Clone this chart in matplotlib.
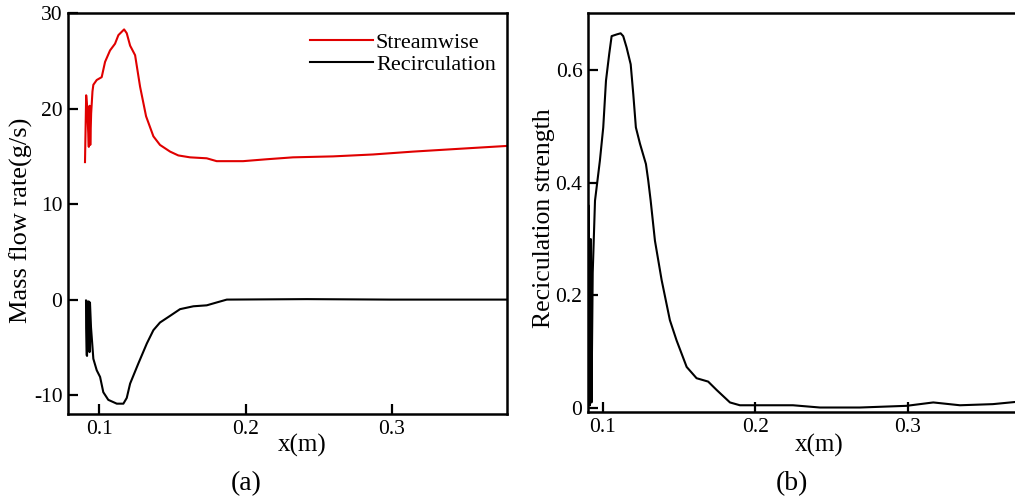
import matplotlib
matplotlib.use('Agg')
import matplotlib.pyplot as plt
from matplotlib.ticker import FuncFormatter

plt.rcParams['font.family'] = ['Liberation Serif', 'DejaVu Serif']

# (a) mass flow rate (g/s) vs x (m)
x_stream = [0.0904, 0.0908, 0.0912, 0.0917, 0.0922, 0.0930, 0.0935, 0.0940, 0.0946,
            0.0955, 0.0961, 0.0984, 0.1018, 0.1041, 0.1075, 0.1109, 0.1132, 0.1171,
            0.1189, 0.1212, 0.1246, 0.1280, 0.1321, 0.1371, 0.1416, 0.1485, 0.1541,
            0.1621, 0.1735, 0.1803, 0.1983, 0.2145, 0.2324, 0.2597, 0.2870, 0.3143,
            0.3464, 0.3790]
streamwise = [14.4, 17.9, 21.4, 20.5, 19.0, 16.0, 20.3, 16.2, 19.5,
              21.8, 22.5, 23.0, 23.3, 24.9, 26.1, 26.8, 27.7, 28.3,
              27.9, 26.6, 25.6, 22.3, 19.2, 17.1, 16.2, 15.5, 15.1,
              14.9, 14.8, 14.5, 14.5, 14.7, 14.9, 15.0, 15.2, 15.5,
              15.8, 16.1]

x_recirc = [0.0911, 0.0912, 0.0915, 0.0918, 0.0921, 0.0930, 0.0935, 0.0938, 0.0945,
            0.0961, 0.0984, 0.1007, 0.1029, 0.1063, 0.1121, 0.1166, 0.1189, 0.1212,
            0.1268, 0.1326, 0.1371, 0.1416, 0.1485, 0.1553, 0.1644, 0.1735, 0.1803,
            0.1872, 0.2418, 0.2993, 0.3790]
recirculation = [-0.1, -3.0, -5.8, -5.9, -0.2, -0.2, -5.5, -0.3, -2.9,
                 -6.2, -7.4, -8.1, -9.7, -10.5, -10.9, -10.9, -10.3, -8.8,
                 -6.7, -4.6, -3.2, -2.4, -1.7, -1.0, -0.7, -0.6, -0.3,
                 0.0, 0.05, 0.0, 0.0]

# (b) recirculation strength vs x (m)
x_strength = [0.0903, 0.0905, 0.0908, 0.0911, 0.0915, 0.0920, 0.0925, 0.0933, 0.0948,
              0.0980, 0.1002, 0.1020, 0.1041, 0.1057, 0.1090, 0.1116, 0.1133, 0.1155,
              0.1182, 0.1199, 0.1216, 0.1243, 0.1282, 0.1297, 0.1313, 0.1341, 0.1385,
              0.1439, 0.1483, 0.1549, 0.1614, 0.1690, 0.1746, 0.1833, 0.1898, 0.2030,
              0.2246, 0.2423, 0.2685, 0.2991, 0.3166, 0.3341, 0.3557, 0.3710]
strength = [0.01, 0.36, 0.02, 0.25, 0.005, 0.30, 0.01, 0.24, 0.368,
            0.439, 0.498, 0.581, 0.628, 0.660, 0.663, 0.665, 0.660, 0.640,
            0.610, 0.557, 0.498, 0.469, 0.433, 0.404, 0.368, 0.297, 0.227,
            0.156, 0.120, 0.073, 0.053, 0.047, 0.032, 0.010, 0.005, 0.005,
            0.005, 0.001, 0.001, 0.004, 0.010, 0.005, 0.007, 0.011]

fmt = FuncFormatter(lambda v, p: ('%g' % v).replace('\u2212', '-'))

fig = plt.figure(figsize=(10.15, 4.99), dpi=100)
ax1 = fig.add_axes([0.067, 0.170, 0.4325, 0.8036])
ax2 = fig.add_axes([0.5793, 0.1743, 0.4207, 0.7996])

ax1.plot(x_stream, streamwise, color='#e00000', lw=1.5, label='Streamwise')
ax1.plot(x_recirc, recirculation, color='black', lw=1.5, label='Recirculation')
ax1.set_xlim(0.0788, 0.3785)
ax1.set_ylim(-12.0, 29.9)
ax1.set_xticks([0.1, 0.2, 0.3])
ax1.set_yticks([-10, 0, 10, 20, 30])
ax1.set_ylabel('Mass flow rate(g/s)', fontsize=19)
ax1.yaxis.set_label_coords(-0.107, 0.484)
ax1.set_xlabel('x(m)', fontsize=18)
ax1.xaxis.set_label_coords(0.533, -0.077)
ax1.legend(loc='upper right', frameon=False, fontsize=16, handlelength=2.8,
           handletextpad=0.15, labelspacing=0.05, borderaxespad=0.2,
           bbox_to_anchor=(1.005, 0.985))

ax2.plot(x_strength, strength, color='black', lw=1.5)
ax2.set_xlim(0.0902, 0.3702)
ax2.set_ylim(-0.007, 0.701)
ax2.set_xticks([0.1, 0.2, 0.3])
ax2.set_yticks([0, 0.2, 0.4, 0.6])
ax2.set_ylabel('Reciculation strength', fontsize=18.5)
ax2.yaxis.set_label_coords(-0.103, 0.486)
ax2.set_xlabel('x(m)', fontsize=18)
ax2.xaxis.set_label_coords(0.541, -0.083)
ax2.spines['right'].set_visible(False)

for ax in (ax1, ax2):
    ax.xaxis.label.set_va('center')
    ax.yaxis.label.set_va('center')
    ax.xaxis.set_major_formatter(fmt)
    ax.yaxis.set_major_formatter(fmt)
    ax.tick_params(direction='in', length=7, width=1.6, labelsize=15.5,
                   pad=4, top=False, right=False)
    for s in ax.spines.values():
        s.set_linewidth(1.8)

fig.text(0.2424, 0.030, '(a)', fontsize=20, ha='center', va='center')
fig.text(0.780, 0.030, '(b)', fontsize=20, ha='center', va='center')

fig.savefig('out.png', dpi=100)
